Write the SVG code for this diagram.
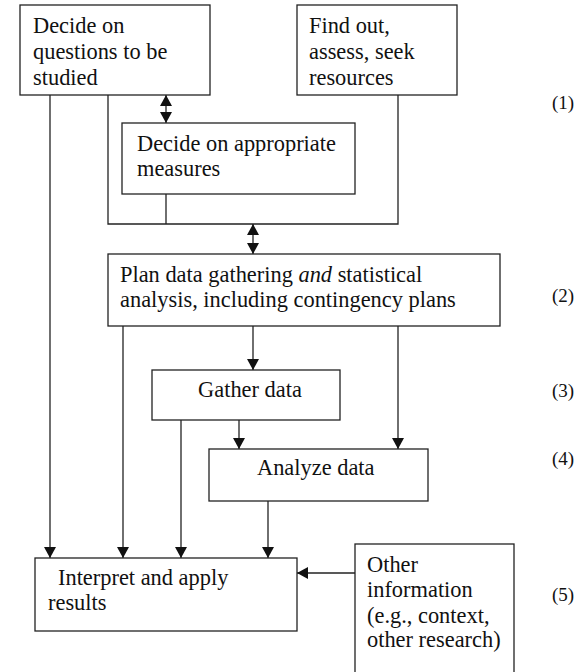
<svg xmlns="http://www.w3.org/2000/svg" width="582" height="672" viewBox="0 0 582 672">
<style>
  .box { fill: #fff; stroke: #222; stroke-width: 1.3; }
  .t { font-family: "Liberation Serif", "Times New Roman", serif; font-size: 22.4px; fill: #111; }
  .lbl { font-family: "Liberation Serif", "Times New Roman", serif; font-size: 19px; fill: #111; }
  .c { fill: none; stroke: #222; stroke-width: 1.3; }
</style>
<defs>
  <marker id="ah" viewBox="0 0 11 12" refX="11" refY="6" markerWidth="11" markerHeight="12" markerUnits="userSpaceOnUse" orient="auto-start-reverse">
    <path d="M0,0 L11,6 L0,12 z" fill="#111"/>
  </marker>
</defs>
<rect width="582" height="672" fill="#fff"/>

<g id="connectors">
  <line class="c" x1="166" y1="95" x2="166" y2="123" marker-start="url(#ah)" marker-end="url(#ah)"/>
  <polyline class="c" points="108,95 108,224 398,224 398,95"/>
  <line class="c" x1="166" y1="194" x2="166" y2="224"/>
  <line class="c" x1="253" y1="224" x2="253" y2="254" marker-start="url(#ah)" marker-end="url(#ah)"/>
  <line class="c" x1="50" y1="95" x2="50" y2="558" marker-end="url(#ah)"/>
  <line class="c" x1="123" y1="326" x2="123" y2="558" marker-end="url(#ah)"/>
  <line class="c" x1="253" y1="326" x2="253" y2="370" marker-end="url(#ah)"/>
  <line class="c" x1="398" y1="326" x2="398" y2="449" marker-end="url(#ah)"/>
  <line class="c" x1="181" y1="420" x2="181" y2="558" marker-end="url(#ah)"/>
  <line class="c" x1="239" y1="420" x2="239" y2="449" marker-end="url(#ah)"/>
  <line class="c" x1="268" y1="501" x2="268" y2="558" marker-end="url(#ah)"/>
  <line class="c" x1="355" y1="573" x2="297" y2="573" marker-end="url(#ah)"/>
</g>

<g id="questions">
  <rect class="box" x="20" y="5" width="190" height="90"/>
  <text class="t" x="33" y="33">Decide on</text>
  <text class="t" x="33" y="59">questions to be</text>
  <text class="t" x="33" y="85">studied</text>
</g>

<g id="resources">
  <rect class="box" x="297" y="5" width="160" height="90"/>
  <text class="t" x="309" y="33">Find out,</text>
  <text class="t" x="309" y="59">assess, seek</text>
  <text class="t" x="309" y="85">resources</text>
</g>

<g id="measures">
  <rect class="box" x="122" y="123" width="233" height="71"/>
  <text class="t" x="137" y="151">Decide on appropriate</text>
  <text class="t" x="137" y="176">measures</text>
</g>

<g id="plan">
  <rect class="box" x="108" y="254" width="392" height="72"/>
  <text class="t" x="120" y="282">Plan data gathering <tspan font-style="italic">and</tspan> statistical</text>
  <text class="t" x="120" y="307">analysis, including contingency plans</text>
</g>

<g id="gather">
  <rect class="box" x="152" y="370" width="188" height="50"/>
  <text class="t" x="250" y="397" text-anchor="middle">Gather data</text>
</g>

<g id="analyze">
  <rect class="box" x="209" y="449" width="219" height="52"/>
  <text class="t" x="257" y="475">Analyze data</text>
</g>

<g id="interpret">
  <rect class="box" x="35" y="558" width="262" height="73"/>
  <text class="t" x="58" y="585">Interpret and apply</text>
  <text class="t" x="48" y="610">results</text>
</g>

<g id="other">
  <rect class="box" x="355" y="544" width="159" height="140"/>
  <text class="t" x="367" y="572">Other</text>
  <text class="t" x="367" y="597">information</text>
  <text class="t" x="367" y="623">(e.g., context,</text>
  <text class="t" x="367" y="647">other research)</text>
</g>

<g id="labels">
  <text class="lbl" x="552" y="109">(1)</text>
  <text class="lbl" x="552" y="302">(2)</text>
  <text class="lbl" x="552" y="397">(3)</text>
  <text class="lbl" x="552" y="465">(4)</text>
  <text class="lbl" x="552" y="601">(5)</text>
</g>
</svg>
